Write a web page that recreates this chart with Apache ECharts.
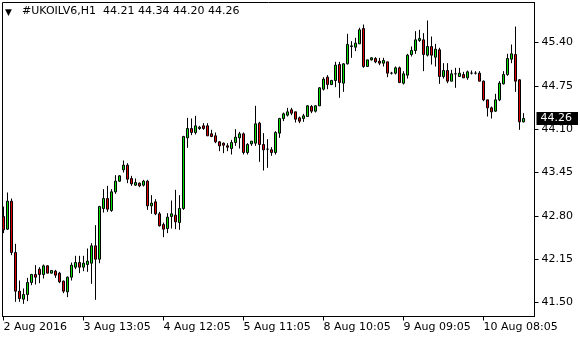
<!DOCTYPE html>
<html><head><meta charset="utf-8">
<script src="https://cdn.jsdelivr.net/npm/echarts@6/dist/echarts.min.js"></script>
<style>html,body{margin:0;padding:0;background:#fff}#c{width:580px;height:340px}</style>
</head><body><div id="c"></div>
<script>
const symbolName = '#UKOILV6';
const timeframe = 'H1';
const opens = [42.79,42.60,43.02,42.25,41.67,41.55,41.62,41.80,41.92,42.00,41.92,42.05,41.94,41.97,41.94,41.82,41.66,41.88,42.03,42.10,
42.03,42.07,42.09,42.35,42.15,42.91,43.06,42.88,43.16,43.32,43.49,43.56,43.36,43.26,43.29,43.26,43.32,42.95,43.01,42.83,
42.67,42.61,42.79,42.81,42.70,42.91,43.97,44.11,44.05,44.11,44.15,44.15,44.03,44.00,43.91,43.89,43.85,43.81,43.90,43.97,
44.03,43.75,43.88,43.89,44.19,43.87,43.80,43.79,43.75,44.04,44.26,44.31,44.39,44.36,44.27,44.26,44.29,44.44,44.37,44.45,
44.70,44.88,44.77,44.83,45.07,44.79,45.08,45.34,45.33,45.38,45.61,45.04,45.14,45.16,45.12,45.09,45.11,44.94,44.94,45.02,
44.79,44.91,45.22,45.28,45.43,45.44,45.21,45.34,45.18,45.29,44.89,44.98,44.82,44.93,44.89,44.92,44.87,44.94,44.94,44.94,
44.82,44.54,44.42,44.37,44.54,44.78,44.92,45.15,45.22,44.84,44.21];
const highs = [42.94,43.15,43.06,42.38,41.83,41.71,41.87,41.93,42.06,42.03,42.07,42.06,41.98,41.99,41.96,41.83,41.89,42.10,42.20,42.20,
42.20,42.31,42.39,42.66,42.95,43.20,43.25,43.20,43.41,43.41,43.63,43.59,43.40,43.36,43.30,43.34,43.34,43.11,43.05,42.86,
42.70,42.84,43.03,43.19,43.11,44.00,44.27,44.26,44.30,44.15,44.19,44.19,44.09,44.05,43.92,43.90,43.89,43.94,44.10,44.06,
44.05,43.89,43.92,44.45,44.21,44.04,43.95,43.83,44.07,44.27,44.35,44.42,44.42,44.36,44.29,44.33,44.46,44.46,44.46,44.73,
44.88,44.91,44.84,45.11,45.11,45.09,45.53,45.42,45.47,45.62,45.67,45.14,45.18,45.18,45.17,45.17,45.11,44.96,45.04,45.04,
44.97,45.23,45.34,45.57,45.59,45.54,45.73,45.49,45.38,45.32,45.09,45.09,44.99,45.02,45.02,44.96,44.98,44.98,44.97,44.97,
44.83,44.54,44.44,44.63,44.82,44.97,45.23,45.37,45.64,44.85,44.34];
const lows = [42.54,42.59,42.21,41.51,41.51,41.48,41.52,41.76,41.77,41.79,41.86,41.94,41.94,41.87,41.79,41.64,41.58,41.83,42.00,41.94,
41.97,41.96,41.78,41.54,42.09,42.85,42.86,42.86,43.13,43.31,43.45,43.29,43.25,43.25,43.23,43.24,42.89,42.83,42.81,42.64,
42.48,42.54,42.61,42.60,42.59,42.89,43.82,44.01,44.02,44.09,44.09,44.00,43.98,43.89,43.77,43.74,43.77,43.72,43.85,43.81,
43.72,43.72,43.85,43.85,43.61,43.48,43.52,43.70,43.72,43.97,44.22,44.29,44.31,44.20,44.19,44.21,44.29,44.34,44.35,44.45,
44.68,44.70,44.76,44.73,44.57,44.66,45.07,45.17,45.27,45.38,45.02,45.04,45.13,45.09,45.06,45.04,44.88,44.92,44.92,44.79,
44.77,44.86,45.19,45.23,45.41,44.97,45.19,45.07,45.04,44.78,44.86,44.79,44.82,44.72,44.89,44.87,44.84,44.92,44.92,44.82,
44.52,44.29,44.26,44.36,44.52,44.77,44.90,45.09,44.66,44.09,44.20];
const closes = [42.59,43.02,42.25,41.67,41.56,41.62,41.80,41.92,41.88,41.92,42.05,41.94,41.98,41.91,41.81,41.67,41.88,42.06,42.10,42.03,
42.09,42.12,42.35,42.15,42.94,43.06,42.90,43.16,43.32,43.40,43.56,43.35,43.28,43.30,43.25,43.32,42.95,42.99,42.83,42.65,
42.60,42.78,42.83,42.71,42.91,43.99,44.11,44.05,44.15,44.13,44.11,44.00,43.99,43.91,43.85,43.86,43.83,43.90,43.98,44.03,
43.75,43.87,43.92,44.18,43.87,43.79,43.80,43.75,44.05,44.26,44.33,44.36,44.34,44.25,44.22,44.30,44.45,44.37,44.45,44.72,
44.85,44.77,44.83,45.06,44.80,45.08,45.37,45.35,45.39,45.59,45.04,45.14,45.17,45.11,45.09,45.13,44.94,44.94,45.02,44.80,
44.93,45.21,45.28,45.44,45.46,45.22,45.34,45.21,45.30,44.89,44.98,44.82,44.93,44.93,44.94,44.87,44.96,44.94,44.94,44.82,
44.54,44.42,44.36,44.54,44.79,44.92,45.16,45.23,44.82,44.21,44.26];
const xTickBars = [0, 20, 40, 60, 80, 100, 120];
const xTickLabels = ['2 Aug 2016', '3 Aug 13:05', '4 Aug 12:05', '5 Aug 11:05', '8 Aug 10:05', '9 Aug 09:05', '10 Aug 08:05'];
const yTicks = [41.50, 42.15, 42.80, 43.45, 44.10, 44.75, 45.40];

const candles = opens.map((o, i) => [i, o, closes[i], lows[i], highs[i]]);
const last = opens.length - 1;
const titleText = symbolName + ',' + timeframe + '  ' + opens[last].toFixed(2) + ' ' + highs[last].toFixed(2) + ' ' + lows[last].toFixed(2) + ' ' + closes[last].toFixed(2);
const font = 'DejaVu Sans';
const chart = echarts.init(document.getElementById('c'), null, {renderer: 'canvas'});
chart.setOption({
  animation: false,
  backgroundColor: '#fff',
  title: {text: titleText, left: 22, top: 6, padding: 0,
    textStyle: {fontFamily: font, fontSize: 11, fontWeight: 'normal', color: '#000'}},
  graphic: [{type: 'text', left: 5, top: 8, style: {text: '▼', fontSize: 9, fill: '#000', fontFamily: font}}],
  grid: {left: 2.5, top: 2.5, right: 45.5, bottom: 23.5, show: true, borderColor: '#000', borderWidth: 1, backgroundColor: '#fff'},
  xAxis: {type: 'value', min: -0.25, max: 132.75, splitLine: {show: false},
    axisLine: {show: true, onZero: false, lineStyle: {color: '#000', width: 1}},
    axisTick: {show: true, length: 4, customValues: xTickBars, lineStyle: {color: '#000'}},
    axisLabel: {customValues: xTickBars, formatter: v => xTickLabels[xTickBars.indexOf(Math.round(v))], align: 'left', margin: 5,
      fontFamily: font, fontSize: 11, color: '#000', hideOverlap: false}},
  yAxis: {type: 'value', position: 'right', min: 41.29, max: 46.00, splitLine: {show: false},
    axisLine: {show: true, onZero: false, lineStyle: {color: '#000', width: 1}},
    axisTick: {show: true, length: 4, customValues: yTicks, lineStyle: {color: '#000'}},
    axisLabel: {customValues: yTicks, formatter: v => v.toFixed(2), margin: 7, fontFamily: font, fontSize: 11, color: '#000'}},
  series: [{
    type: 'candlestick', data: candles, barWidth: 2,
    encode: {x: 0, y: [1, 2, 3, 4]},
    itemStyle: {color: '#00dd00', color0: '#dd0000', borderColor: '#000', borderColor0: '#000', borderColorDoji: '#000', borderWidth: 1},
    emphasis: {disabled: true},
    markLine: {
      silent: true, symbol: ['none', 'none'], animation: false,
      data: [{yAxis: closes[last]}],
      lineStyle: {color: 'rgba(0,0,0,0)', width: 1, type: 'solid'},
      label: {show: true, position: 'end', formatter: closes[last].toFixed(2), distance: 2,
        backgroundColor: '#000', color: '#fff', fontFamily: font, fontSize: 11, padding: [1, 6, 1, 4]}
    }
  }]
});
</script></body></html>
